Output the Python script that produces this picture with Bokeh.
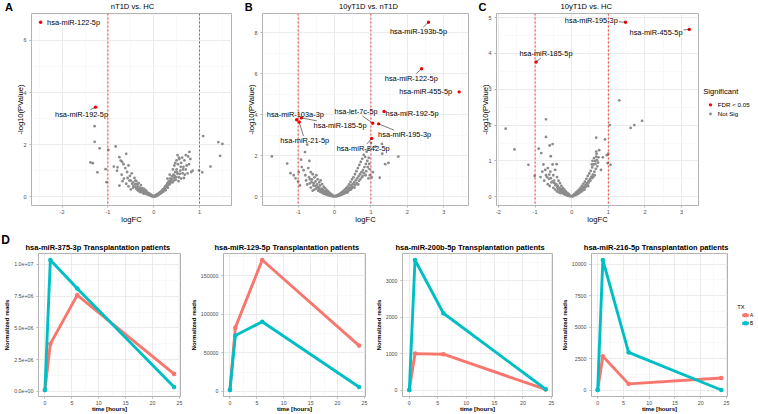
from bokeh.plotting import figure
from bokeh.models import Range1d, FixedTicker, Span
from bokeh.layouts import row, column
from bokeh.embed import file_html
from bokeh.resources import INLINE
from bokeh.core.properties import value

FONT = "Liberation Sans"

# ---------------- data: volcano plots ----------------
A_notsig = [(-1.29, 2.71), (-1.29, 2.11), (-1.18, 1.86), (-1.38, 1.32), (-1.33, 1.29), (-1.23, 0.94),
            (-1.05, 1.06), (-1.03, 0.56), (-0.99, 1.80), (-0.83, 1.93), (-0.75, 1.52), (-0.72, 1.39),
            (-0.69, 1.34), (-0.60, 1.65), (-0.87, 1.16), (-0.79, 1.13), (-0.75, 0.43), (-0.66, 1.25),
            (-0.62, 1.10), (-0.58, 0.95), (-0.70, 0.85), (-0.65, 0.70), (-0.55, 1.20), (-0.52, 0.80),
            (-0.50, 0.62), (-0.48, 0.90), (-0.45, 0.55), (-0.42, 0.72), (-0.40, 0.48), (-0.38, 0.60),
            (-0.35, 0.40), (-0.33, 0.52), (-0.30, 0.35), (-0.28, 0.45), (-0.27, 0.28), (-0.25, 0.33),
            (-0.23, 0.22), (-0.21, 0.30), (-0.20, 0.18), (-0.18, 0.25), (-0.16, 0.15), (-0.15, 0.20),
            (-0.13, 0.10), (-0.12, 0.14), (-0.10, 0.08), (-0.09, 0.12), (-0.07, 0.05), (-0.06, 0.08),
            (-0.04, 0.03), (-0.03, 0.05), (-0.02, 0.02), (-0.45, 0.35), (-0.38, 0.30), (-0.32, 0.22),
            (-0.26, 0.17), (-0.60, 0.50), (-0.55, 0.40), (-0.68, 0.60), (-0.80, 1.00), (-0.35, 0.25),
            (-0.30, 0.18), (-0.22, 0.12), (-0.50, 0.28),
            (-0.44, 0.42), (-0.41, 0.38), (-0.37, 0.35), (-0.34, 0.30), (-0.31, 0.28), (-0.29, 0.24),
            (-0.27, 0.21), (-0.24, 0.19), (-0.19, 0.14), (-0.17, 0.12), (-0.14, 0.09), (-0.11, 0.07),
            (-0.08, 0.05), (-0.05, 0.03), (-0.01, 0.01), (-0.36, 0.48), (-0.40, 0.62), (-0.47, 0.50),
            (-0.53, 0.62), (-0.57, 0.72),
            (0.02, 0.02), (0.03, 0.05), (0.05, 0.03), (0.06, 0.08), (0.08, 0.10), (0.09, 0.06),
            (0.11, 0.14), (0.12, 0.10), (0.14, 0.18), (0.15, 0.13), (0.17, 0.22), (0.18, 0.16),
            (0.20, 0.28), (0.21, 0.20), (0.23, 0.32), (0.25, 0.40), (0.26, 0.25), (0.28, 0.45),
            (0.30, 0.52), (0.31, 0.35), (0.33, 0.60), (0.35, 0.48), (0.36, 0.70), (0.38, 0.62),
            (0.40, 0.78), (0.41, 0.55), (0.43, 0.85), (0.45, 0.72), (0.47, 0.95), (0.48, 0.65),
            (0.50, 1.05), (0.52, 0.88), (0.53, 1.25), (0.55, 0.75), (0.56, 1.45), (0.58, 1.00),
            (0.60, 1.30), (0.62, 1.50), (0.63, 0.90), (0.65, 1.15), (0.67, 1.40), (0.70, 1.60),
            (0.72, 1.20), (0.75, 1.55), (0.78, 1.72), (0.80, 1.45), (0.82, 0.95), (0.85, 1.00),
            (0.55, 1.50), (0.50, 1.40), (0.45, 1.20), (0.60, 0.70), (0.42, 1.05), (0.68, 0.85),
            (0.35, 0.85), (0.30, 0.70),
            (0.01, 0.01), (0.04, 0.02), (0.07, 0.04), (0.10, 0.09), (0.13, 0.12), (0.16, 0.19),
            (0.19, 0.24), (0.22, 0.26), (0.24, 0.30), (0.27, 0.36), (0.29, 0.40), (0.32, 0.46),
            (0.34, 0.52), (0.37, 0.55), (0.39, 0.68), (0.44, 0.62), (0.46, 0.80), (0.49, 0.75),
            (0.51, 0.95), (0.54, 0.60), (0.57, 0.88), (0.59, 1.15), (0.64, 1.05), (0.66, 0.72),
            (0.70, 1.05), (0.74, 0.90), (0.77, 1.25), (0.52, 1.60), (0.47, 1.30),
            (0.99, 1.01), (1.06, 0.94), (1.08, 2.33), (1.24, 1.16), (1.41, 2.10), (1.45, 1.57), (1.50, 2.03)]
A_sig_names = ["hsa-miR-122-5p", "hsa-miR-192-5p"]
A_sig_x = [-2.47, -1.27]
A_sig_y = [6.70, 3.44]

B_notsig = [(-1.72, 1.97), (-1.30, 1.62), (-1.21, 1.15), (-1.07, 0.90), (-1.12, 1.05), (-0.81, 2.18),
            (-0.75, 2.55), (-0.92, 1.81), (-0.69, 1.75), (-0.90, 1.45), (-0.98, 1.20), (-1.00, 0.75),
            (-0.95, 0.55), (-0.85, 1.30), (-0.80, 1.05), (-0.78, 0.80), (-0.72, 1.40), (-0.70, 0.95),
            (-0.68, 0.65), (-0.65, 1.20), (-0.62, 0.85), (-0.60, 1.10), (-0.58, 0.55), (-0.55, 0.95),
            (-0.52, 0.75), (-0.50, 1.05), (-0.48, 0.60), (-0.46, 0.85), (-0.44, 0.45), (-0.42, 0.70),
            (-0.40, 0.55), (-0.38, 0.80), (-0.36, 0.40), (-0.34, 0.62), (-0.32, 0.35), (-0.30, 0.50),
            (-0.28, 0.28), (-0.26, 0.42), (-0.24, 0.25), (-0.22, 0.33), (-0.20, 0.20), (-0.18, 0.27),
            (-0.16, 0.15), (-0.14, 0.20), (-0.12, 0.10), (-0.10, 0.14), (-0.08, 0.07), (-0.06, 0.09),
            (-0.04, 0.04), (-0.02, 0.02), (-0.45, 0.30), (-0.40, 0.25), (-0.35, 0.20), (-0.55, 0.35),
            (-0.65, 0.45), (-0.30, 0.15), (-0.25, 0.12), (-0.50, 0.40), (-0.75, 0.60), (-0.60, 0.30),
            (-0.42, 0.38), (-0.39, 0.33), (-0.37, 0.28), (-0.33, 0.26), (-0.31, 0.22), (-0.29, 0.19),
            (-0.27, 0.17), (-0.23, 0.14), (-0.21, 0.11), (-0.19, 0.09), (-0.17, 0.08), (-0.13, 0.06),
            (-0.11, 0.05), (-0.07, 0.03), (-0.03, 0.02), (-0.47, 0.48), (-0.53, 0.52), (-0.57, 0.66),
            (-0.63, 0.72), (-0.67, 0.85),
            (0.02, 0.02), (0.04, 0.05), (0.06, 0.04), (0.08, 0.08), (0.10, 0.06), (0.12, 0.12),
            (0.14, 0.09), (0.16, 0.16), (0.18, 0.12), (0.20, 0.22), (0.22, 0.17), (0.24, 0.28),
            (0.26, 0.20), (0.28, 0.35), (0.30, 0.25), (0.32, 0.42), (0.34, 0.30), (0.36, 0.50),
            (0.38, 0.38), (0.40, 0.60), (0.42, 0.45), (0.44, 0.72), (0.46, 0.55), (0.48, 0.85),
            (0.50, 0.62), (0.52, 0.95), (0.54, 0.70), (0.56, 1.10), (0.58, 0.80), (0.60, 1.25),
            (0.62, 0.90), (0.64, 1.40), (0.66, 1.00), (0.68, 1.55), (0.70, 1.10), (0.72, 1.70),
            (0.74, 1.20), (0.76, 1.85), (0.78, 1.30), (0.80, 2.05), (0.82, 1.45), (0.84, 1.95),
            (0.86, 1.60), (0.88, 2.20), (0.90, 1.75), (0.92, 2.35), (0.94, 1.90), (0.96, 1.35),
            (0.55, 0.45), (0.65, 0.60), (0.75, 0.95), (0.85, 1.05), (0.35, 0.20), (0.45, 0.35),
            (0.03, 0.02), (0.07, 0.03), (0.11, 0.05), (0.15, 0.07), (0.19, 0.10), (0.23, 0.13),
            (0.27, 0.16), (0.31, 0.20), (0.37, 0.27), (0.41, 0.33), (0.47, 0.42), (0.51, 0.48),
            (0.57, 0.58), (0.61, 0.66), (0.67, 0.78), (0.71, 0.85), (0.77, 1.02), (0.81, 1.15),
            (0.87, 1.25), (0.91, 1.45), (0.95, 1.60), (0.93, 0.90), (0.97, 1.05),
            (1.00, 2.62), (1.12, 2.45), (1.30, 2.58), (1.31, 2.10), (1.39, 1.59), (1.48, 1.65),
            (1.75, 1.96), (1.24, 0.93), (1.05, 1.20), (1.02, 0.95)]
B_sig_names = ["hsa-miR-193b-5p", "hsa-miR-122-5p", "hsa-miR-455-5p", "hsa-miR-192-5p", "hsa-let-7c-5p",
               "hsa-miR-195-3p", "hsa-miR-342-5p", "hsa-miR-103a-3p", "hsa-miR-185-5p", "hsa-miR-21-5p"]
B_sig_x = [2.58, 2.39, 3.42, 1.36, 1.05, 1.21, 1.02, -1.04, -0.91, -0.97]
B_sig_y = [8.52, 6.25, 5.12, 4.16, 3.59, 3.56, 2.85, 3.76, 3.85, 3.65]

C_notsig = [(-1.80, 1.90), (-1.56, 1.32), (-1.18, 0.89), (-1.01, 0.58), (-0.70, 2.16), (-0.70, 1.67),
            (-0.90, 1.34), (-0.83, 1.22), (-0.60, 1.43), (-0.52, 1.47), (-0.57, 1.13), (-0.77, 0.90),
            (-0.52, 0.90), (-0.41, 0.91), (-0.85, 0.55), (-0.80, 0.70), (-0.75, 0.45), (-0.70, 0.60),
            (-0.65, 0.80), (-0.62, 0.50), (-0.58, 0.70), (-0.55, 0.40), (-0.50, 0.60), (-0.48, 0.45),
            (-0.45, 0.75), (-0.42, 0.35), (-0.40, 0.55), (-0.38, 0.30), (-0.36, 0.45), (-0.34, 0.25),
            (-0.32, 0.38), (-0.30, 0.22), (-0.28, 0.30), (-0.26, 0.18), (-0.24, 0.24), (-0.22, 0.14),
            (-0.20, 0.20), (-0.18, 0.11), (-0.16, 0.15), (-0.14, 0.08), (-0.12, 0.11), (-0.10, 0.06),
            (-0.08, 0.08), (-0.06, 0.04), (-0.04, 0.03), (-0.02, 0.01), (-0.50, 0.25), (-0.45, 0.20),
            (-0.40, 0.15), (-0.35, 0.12), (-0.30, 0.10), (-0.60, 0.30), (-0.65, 0.35), (-0.28, 0.15),
            (-0.39, 0.26), (-0.37, 0.22), (-0.33, 0.19), (-0.31, 0.16), (-0.29, 0.13), (-0.27, 0.12),
            (-0.23, 0.10), (-0.21, 0.08), (-0.19, 0.07), (-0.17, 0.06), (-0.13, 0.04), (-0.11, 0.03),
            (-0.07, 0.02), (-0.44, 0.32), (-0.47, 0.38), (-0.53, 0.42), (-0.57, 0.52), (-0.61, 0.62),
            (-0.67, 0.55), (-0.72, 0.75),
            (0.02, 0.02), (0.04, 0.04), (0.06, 0.05), (0.08, 0.08), (0.10, 0.07), (0.12, 0.12),
            (0.14, 0.10), (0.16, 0.16), (0.18, 0.13), (0.20, 0.20), (0.22, 0.16), (0.24, 0.25),
            (0.26, 0.20), (0.28, 0.30), (0.30, 0.24), (0.32, 0.36), (0.34, 0.28), (0.36, 0.42),
            (0.38, 0.33), (0.40, 0.50), (0.42, 0.38), (0.44, 0.58), (0.46, 0.44), (0.48, 0.65),
            (0.50, 0.50), (0.52, 0.72), (0.54, 0.56), (0.56, 0.82), (0.58, 0.62), (0.60, 0.90),
            (0.62, 0.70), (0.64, 1.00), (0.66, 0.78), (0.67, 1.26), (0.67, 1.12), (0.68, 1.20),
            (0.70, 0.85), (0.72, 0.95), (0.75, 1.30), (0.67, 1.65), (0.91, 1.60), (0.96, 1.16),
            (0.98, 0.94), (1.06, 0.89), (0.85, 1.10), (0.80, 0.75), (0.55, 0.90), (0.45, 0.30),
            (0.35, 0.20),
            (0.03, 0.01), (0.07, 0.03), (0.11, 0.05), (0.15, 0.07), (0.19, 0.09), (0.23, 0.12),
            (0.27, 0.15), (0.31, 0.18), (0.35, 0.25), (0.39, 0.28), (0.43, 0.35), (0.47, 0.40),
            (0.51, 0.45), (0.55, 0.52), (0.59, 0.55), (0.63, 0.60), (0.65, 0.92), (0.69, 1.02),
            (0.73, 1.10), (0.61, 1.08), (0.57, 1.00),
            (1.30, 2.69), (1.04, 2.00), (1.61, 1.92), (1.71, 2.00), (1.92, 2.12), (1.00, 1.20)]
C_sig_names = ["hsa-miR-195-3p", "hsa-miR-455-5p", "hsa-miR-185-5p"]
C_sig_x = [1.47, 3.21, -0.97]
C_sig_y = [4.87, 4.67, 3.76]

panel_letters = ["A", "B", "C", "D"]
volcano_titles = ["nT1D vs. HC", "10yT1D vs. nT1D", "10yT1D vs. HC"]
sig_legend_title = "Significant"
sig_legend_labels = ["FDR < 0.05", "Not Sig"]

# ---------------- data: transplantation time courses ----------------
time_h = [0, 1, 6, 24]
D_genes = ["hsa-miR-375-3p", "hsa-miR-129-5p", "hsa-miR-200b-5p", "hsa-miR-216-5p"]
D1_A = [100000, 3740000, 7580000, 1370000]
D1_B = [100000, 10350000, 8100000, 330000]
D2_A = [2000, 82700, 170500, 59400]
D2_B = [1800, 72500, 90300, 5600]
D3_A = [0, 1000, 984, 15]
D3_B = [0, 3573, 2110, 20]
D4_A = [0, 2685, 488, 952]
D4_B = [0, 10340, 2995, 0]
D1_yticks = [0, 2500000, 5000000, 7500000, 10000000]
D1_ylabels = ["0.0e+00", "2.5e+06", "5.0e+06", "7.5e+06", "1.0e+07"]
D2_yticks = [0, 50000, 100000, 150000]
D3_yticks = [0, 1000, 2000, 3000]
D4_yticks = [0, 2500, 5000, 7500, 10000]
time_ticks = [0, 5, 10, 15, 20, 25]
tx_groups = ["A", "B"]

# label placement offsets (px, y down) and whether a connector is drawn
A_lab_off = [(33, 0, False), (-14, 7, True)]
B_lab_off = [(-10, 9.3, True), (-10.3, 9.4, True), (-33.5, 0, False), (28, 1.5, False), (-16.7, -11.7, True),
             (26, 10.7, True), (-8.5, 10, True), (-1.3, -5.8, False), (38.7, 7.4, True), (5.6, 18.7, True)]
C_lab_off = [(-34.2, -2, True), (-33.3, 3, True), (9.9, -8.4, True)]

RED = "#FF0000"
GREY = "#8C8C8C"
COL_A = "#F8766D"
COL_B = "#00BFC4"

CW = {'h': .556, 's': .5, 'a': .556, '-': .333, 'm': .833, 'i': .222, 'R': .722, 'p': .556, 'b': .556,
      'l': .222, 'e': .556, 't': .278, 'c': .5}


def text_w(t, fs):
    return sum(CW.get(ch, .556) for ch in t) * fs


def expand(vals, f=0.05):
    lo, hi = min(vals), max(vals)
    r = hi - lo
    return (lo - f * r, hi + f * r)


def blank(w, h):
    p = figure(width=w, height=h, x_range=Range1d(0, w), y_range=Range1d(h, 0), title=None,
               x_axis_type=None, y_axis_type=None, toolbar_location=None, output_backend="svg",
               min_border_left=0, min_border_right=0, min_border_top=0, min_border_bottom=0)
    p.outline_line_color = None
    return p


def txt(p, x, y, t, size, style="normal", align="left", color="black"):
    p.text([x], [y], text=[t], text_align=align, text_baseline="middle", text_font=value(FONT),
           text_font_size=size, text_font_style=style, text_color=color)


def make_fig(w, h, bl, br, bt, bb, xr, yr):
    p = figure(width=w, height=h, x_range=Range1d(*xr), y_range=Range1d(*yr), title=None,
               output_backend="svg", toolbar_location=None,
               min_border_left=bl, min_border_right=br, min_border_top=bt, min_border_bottom=bb)
    p.outline_line_color = "#B3B3B3"
    p.outline_line_width = 1
    p.grid.grid_line_color = "#E6E6E6"
    p.grid.grid_line_width = 0.8
    p.grid.minor_grid_line_color = "#F2F2F2"
    p.grid.minor_grid_line_width = 0.5
    p.axis.axis_line_color = None
    p.axis.major_tick_line_color = "#B3B3B3"
    p.axis.major_tick_out = 2
    p.axis.major_tick_in = 0
    p.axis.minor_tick_line_color = None
    p.axis.major_label_text_color = "#4D4D4D"
    p.axis.major_label_text_font = FONT
    p.axis.major_label_standoff = 1
    p.axis.axis_label_standoff = 1
    p.axis.axis_label_text_font = FONT
    p.axis.axis_label_text_color = "black"
    p.axis.major_label_text_line_height = 1.0
    p.axis.axis_label_text_line_height = 1.0
    p.xaxis.major_label_standoff = 0
    p.xaxis.axis_label_standoff = -2
    return p


def set_ticks(axis, ticks, minor):
    axis.ticker = FixedTicker(ticks=ticks, minor_ticks=minor)


def mids(ticks, lo, hi):
    step = ticks[1] - ticks[0]
    out = []
    v = ticks[0] - step / 2
    while v < hi:
        if v > lo:
            out.append(v)
        v += step
    return out


STRIP1_H, TOP_H, STRIP2_H, BOT_H = 12, 214, 26, 162


def volcano(w, bl, br, notsig, sx, sy, names, offs, xt, yt):
    bt, bb = 1, 19
    fw = w - bl - br
    fh = TOP_H - bt - bb
    nx = [q[0] for q in notsig]
    ny = [q[1] for q in notsig]
    xr = expand(nx + sx)
    yr = expand(ny + sy + [0])
    p = make_fig(w, TOP_H, bl, br, bt, bb, xr, yr)
    set_ticks(p.xaxis, xt, mids(xt, *xr))
    set_ticks(p.yaxis, yt, mids(yt, *yr))
    p.axis.major_label_text_font_size = "5.5px"
    p.axis.axis_label_text_font_size = "7.6px"
    p.axis.axis_label_text_font_style = "normal"
    p.yaxis.axis_label_standoff = -5
    p.xaxis.axis_label = "logFC"
    p.yaxis.axis_label = "-log10(PValue)"
    p.xaxis.major_label_overrides = {t: str(t) for t in xt}
    for loc in (-1, 1):
        p.add_layout(Span(location=loc, dimension="height", line_color=RED, line_dash="2 2", line_width=0.8))
    p.scatter(nx, ny, size=2.8, color=GREY, line_color=None)
    p.scatter(sx, sy, size=3.4, color=RED, line_color=None)
    xppu = fw / (xr[1] - xr[0])
    yppu = fh / (yr[1] - yr[0])
    fs = 7.4
    lx, ly, x0, y0, x1, y1 = [], [], [], [], [], []
    for px, py, nm, (dx, dy, seg) in zip(sx, sy, names, offs):
        dxp, dyp = dx, -dy
        cx = px + dxp / xppu
        cy = py + dyp / yppu
        lx.append(cx)
        ly.append(cy)
        if seg:
            hw = text_w(nm, fs) / 2 + 1
            hh = fs * 0.6
            vx, vy = -dxp, -dyp  # from label centre to point (px)
            s = min(hw / abs(vx) if vx else 1e9, hh / abs(vy) if vy else 1e9)
            if s < 1:
                x0.append(px)
                y0.append(py)
                x1.append(cx + s * vx / xppu)
                y1.append(cy + s * vy / yppu)
    if x0:
        p.segment(x0, y0, x1, y1, line_color="#222222", line_width=0.6)
    p.text(lx, ly, text=names, text_align="center", text_baseline="middle",
           text_font=value(FONT), text_font_size="7.4px", text_color="black")
    return p


def timecourse(w, bl, br, ya, yb, yticks, ylabels=None):
    bt, bb = 1, 17
    yr = expand(ya + yb)
    p = make_fig(w, BOT_H, bl, br, bt, bb, (-1.2, 25.2), yr)
    p.xaxis.axis_label_standoff = -3
    set_ticks(p.xaxis, time_ticks, [2.5, 7.5, 12.5, 17.5, 22.5])
    set_ticks(p.yaxis, yticks, mids(yticks, *yr))
    p.axis.major_label_text_font_size = "5.3px"
    p.axis.axis_label_text_font_size = "6.1px"
    p.axis.axis_label_text_font_style = "bold"
    p.xaxis.axis_label = "time [hours]"
    p.yaxis.axis_label = "Normalized reads"
    p.yaxis.major_label_overrides = {t: (ylabels[i] if ylabels else str(t)) for i, t in enumerate(yticks)}
    for ys, col in ((ya, COL_A), (yb, COL_B)):
        p.line(time_h, ys, line_width=2.9, color=col)
        p.scatter(time_h, ys, size=4.6, color=col, line_color=None)
    return p


# ---- title strip above volcano plots ----
s1 = blank(758, STRIP1_H)
for lx_, l_ in zip([8.5, 248.3, 482.0], panel_letters[:3]):
    txt(s1, lx_, 6.2, l_, "11px", "bold", align="center")
for tx_, t_ in zip([132.0, 368.0, 585.7], volcano_titles):
    txt(s1, tx_, 6.0, t_, "7.6px", align="center")

# ---- volcano row ----
pA = volcano(240, 31, 9, A_notsig, A_sig_x, A_sig_y, A_sig_names, A_lab_off, [-2, -1, 0, 1], [0, 2, 4, 6])
pB = volcano(236, 22, 8, B_notsig, B_sig_x, B_sig_y, B_sig_names, B_lab_off, [-1, 0, 1, 2, 3], [0, 2, 4, 6, 8])
pC = volcano(223, 20, 1, C_notsig, C_sig_x, C_sig_y, C_sig_names, C_lab_off,
             [-2, -1, 0, 1, 2, 3], [0, 1, 2, 3, 4, 5])

legC = blank(59, TOP_H)
txt(legC, 3.7, 87.2, sig_legend_title, "7.6px")
legC.scatter([11, 11], [101.8, 112.0], size=[3.4, 2.8], color=[RED, GREY], line_color=None)
for yy, lab in zip([101.8, 112.0], sig_legend_labels):
    txt(legC, 18.3, yy, lab, "6.2px")

# ---- title strip above time courses ----
s2 = blank(758, STRIP2_H)
txt(s2, 5.0, 13.7, panel_letters[3], "12px", "bold", align="center")
for lx_, g_ in zip([25.0, 214.0, 395.0, 583.3], D_genes):
    txt(s2, lx_, 21.0, g_ + " Transplantation patients", "7.5px", "bold")

# ---- time course row ----
pD1 = timecourse(186, 31, 6, D1_A, D1_B, D1_yticks, D1_ylabels)
pD2 = timecourse(185, 27, 6, D2_A, D2_B, D2_yticks)
pD3 = timecourse(186, 25, 5, D3_A, D3_B, D3_yticks)
pD4 = timecourse(173, 29, 3, D4_A, D4_B, D4_yticks)

legD = blank(28, BOT_H)
txt(legD, 6.7, 60.3, "TX", "5.8px")
for yy, col, lab in zip([70.0, 79.0], [COL_A, COL_B], tx_groups):
    legD.segment([11.7], [yy], [18.3], [yy], line_width=2.9, line_color=col)
    legD.scatter([15.0], [yy], size=4.6, color=col, line_color=None)
    txt(legD, 19.5, yy, lab, "4.8px")

layout = column(s1, row(pA, pB, pC, legC), s2, row(pD1, pD2, pD3, pD4, legD))
open("out.html", "w").write(file_html(layout, INLINE))
